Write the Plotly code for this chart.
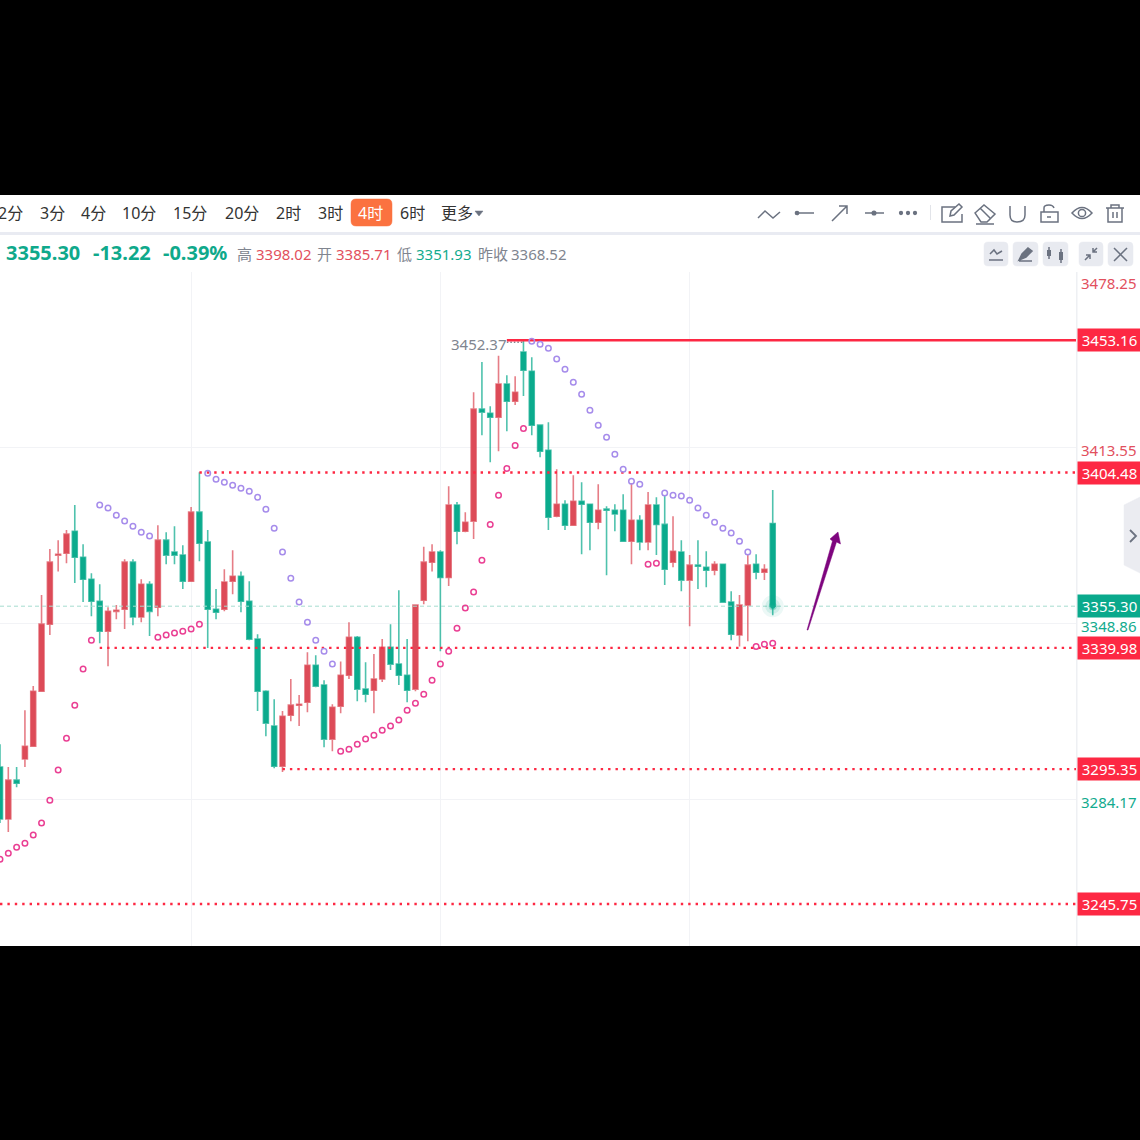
import plotly.graph_objects as go

# ---------- data ----------
high = [3304.5,3296.1,3296.1,3317.0,3325.9,3359.4,3376.3,3379.6,3383.3,3392.5,3378.1,3367.4,3363.4,3354.9,3355.7,3372.6,3372.6,3365.2,3364.5,3385.1,3382.5,3384.7,3377.7,3391.8,3404.6,3383.3,3361.6,3368.9,3375.9,3368.1,3364.5,3345.0,3324.4,3321.1,3316.7,3328.5,3322.6,3338.4,3337.3,3328.1,3319.2,3335.0,3349.4,3344.3,3334.7,3337.7,3343.2,3348.7,3361.2,3343.2,3355.7,3377.2,3378.1,3375.9,3399.4,3393.6,3389.9,3434.0,3445.1,3428.9,3447.4,3440.3,3439.9,3453.2,3446.9,3421.9,3423.0,3405.7,3394.3,3403.5,3400.9,3392.8,3400.2,3392.1,3392.8,3396.5,3400.6,3388.8,3397.3,3395.4,3396.1,3388.4,3379.6,3374.1,3379.6,3375.5,3371.8,3370.7,3360.8,3359.4,3374.1,3374.4,3370.7,3398.02]
low = [3275.5,3272.2,3288.7,3296.1,3303.8,3324.0,3344.7,3368.1,3371.1,3363.8,3356.8,3351.6,3341.7,3333.2,3350.5,3346.9,3348.3,3349.4,3344.3,3351.6,3370.7,3370.7,3361.6,3364.2,3371.8,3339.9,3350.5,3353.4,3359.7,3353.1,3342.8,3316.7,3307.5,3295.7,3294.3,3313.0,3311.2,3316.3,3325.5,3303.4,3301.9,3315.9,3328.5,3320.3,3320.0,3315.9,3327.4,3331.8,3326.3,3320.0,3324.0,3356.0,3368.1,3338.7,3362.7,3378.1,3382.5,3380.0,3418.2,3408.3,3412.3,3419.7,3429.3,3432.6,3418.2,3410.1,3383.3,3388.0,3383.3,3385.1,3374.4,3375.9,3383.6,3366.7,3382.9,3379.2,3370.7,3375.9,3375.9,3374.1,3363.1,3369.6,3360.8,3347.9,3361.6,3362.3,3366.7,3356.8,3342.8,3340.5,3342.4,3365.2,3364.9,3351.93]
open_ = [3296.1,3277.0,3291.3,3299.1,3303.8,3324.0,3348.7,3374.1,3374.8,3382.9,3373.3,3365.2,3357.1,3346.1,3353.4,3354.2,3371.5,3351.3,3363.4,3354.9,3379.6,3375.2,3374.1,3364.5,3389.9,3378.9,3354.2,3354.2,3364.5,3366.3,3357.1,3343.2,3324.0,3311.2,3296.4,3315.2,3318.9,3320.0,3333.6,3326.3,3306.4,3318.5,3329.9,3343.9,3324.8,3324.4,3328.5,3340.2,3334.0,3329.9,3324.8,3357.5,3371.5,3375.2,3365.9,3392.5,3382.9,3386.6,3427.8,3426.3,3424.8,3437.0,3430.7,3448.8,3441.7,3421.9,3412.7,3388.4,3392.8,3385.1,3393.9,3392.8,3386.2,3391.0,3390.6,3390.6,3379.2,3386.9,3378.9,3392.5,3385.4,3371.5,3375.2,3364.9,3370.4,3369.6,3368.5,3370.7,3356.8,3344.7,3355.7,3370.7,3367.8,3385.71]
close = [3277.0,3291.3,3290.2,3303.8,3324.0,3348.7,3371.5,3374.4,3381.8,3373.3,3365.2,3357.1,3346.1,3353.4,3353.8,3371.5,3351.3,3363.4,3353.4,3379.6,3374.1,3374.1,3364.5,3389.9,3378.5,3354.2,3353.1,3364.2,3366.3,3357.1,3343.2,3324.0,3312.3,3296.4,3314.8,3318.9,3319.2,3333.6,3325.9,3306.4,3318.1,3329.9,3343.9,3324.8,3322.9,3328.5,3340.2,3334.0,3329.9,3324.4,3355.7,3371.5,3375.2,3365.9,3392.5,3382.9,3386.2,3427.8,3426.7,3424.8,3437.0,3430.7,3434.0,3442.1,3421.9,3412.3,3388.0,3392.8,3385.1,3393.9,3392.8,3386.2,3390.6,3390.6,3389.2,3379.2,3386.9,3378.9,3392.5,3385.4,3368.9,3375.5,3364.9,3370.4,3370.0,3368.5,3370.7,3356.8,3345.0,3355.7,3370.4,3367.8,3368.9,3355.30]

sar_long = {0:3262.2,1:3264.4,2:3266.6,3:3268.1,4:3271.1,5:3275.5,6:3283.9,7:3295.0,8:3306.7,9:3318.9,10:3332.2,11:3342.8,
            19:3343.9,20:3344.7,21:3345.4,22:3346.1,23:3346.9,24:3348.7,
            41:3301.9,42:3302.7,43:3304.5,44:3306.4,45:3307.8,46:3309.7,47:3311.2,48:3313.4,49:3317.0,50:3319.6,51:3322.9,52:3328.1,53:3334.0,54:3338.7,55:3347.2,56:3354.6,57:3360.5,58:3372.2,59:3385.4,60:3396.1,61:3406.0,62:3414.4,63:3420.7,
            78:3370.7,79:3371.1,91:3340.5,92:3341.3,93:3341.7}
sar_short = {12:3392.5,13:3391.4,14:3388.8,15:3386.6,16:3384.7,17:3382.5,18:3381.1,
             25:3404.2,26:3402.0,27:3400.9,28:3399.8,29:3398.7,30:3397.6,31:3395.4,32:3391.0,33:3384.0,34:3375.2,35:3365.6,36:3356.8,37:3349.4,38:3342.8,39:3338.7,40:3334.0,
             64:3452.8,65:3451.7,66:3450.2,67:3446.2,68:3442.5,69:3437.7,70:3433.3,71:3427.4,72:3421.9,73:3417.5,74:3411.2,75:3405.7,76:3401.3,77:3400.2,
             80:3396.9,81:3396.1,82:3395.8,83:3394.3,84:3391.4,85:3388.8,86:3386.2,87:3384.0,88:3382.2,89:3379.2,90:3375.2}

grid_prices = [3478.25, 3413.55, 3348.86, 3284.17]
axis_labels = [("3478.25", 3478.25, "#e2505d", -11), ("3413.55", 3413.55, "#e2505d", -2),
               ("3348.86", 3348.86, "#12ab8e", -2), ("3284.17", 3284.17, "#12ab8e", -2)]
levels = [(3404.48, 24), (3339.98, 12), (3295.35, 34), (3245.75, 0)]
solid_level = (3453.16, 61)
last_price = 3355.30
session_grid = [23, 53, 83]
timeframes = [("2分", -2), ("3分", 40), ("4分", 81), ("10分", 122), ("15分", 173), ("20分", 225),
              ("2时", 276), ("3时", 318), ("6时", 400), ("更多", 441)]
stats = [("高", 237, "#80858f"), ("3398.02", 256, "#e2505d"), ("开", 317, "#80858f"), ("3385.71", 336, "#e2505d"),
         ("低", 397, "#80858f"), ("3351.93", 416, "#12ab8e"), ("昨收", 478, "#80858f"), ("3368.52", 511, "#80858f")]
headline = [("3355.30", 6), ("-13.22", 93), ("-0.39%", 163)]

# ---------- layout geometry (chrome only) ----------
PLOT_R, PLOT_T, PLOT_B = 1076, 272, 946
FONT = "Noto Sans, Noto Sans CJK SC, sans-serif"
RED, GREEN = "#dd4b58", "#0bab8d"
ICON = "#6b7280"

def X(px): return px / PLOT_R
def Y(py): return (PLOT_B - py) / (PLOT_B - PLOT_T)

def svg(d):
    out, is_x = [], True
    for tok in d.split():
        if tok.isalpha():
            out.append(tok); is_x = True
        else:
            v = float(tok)
            out.append(f"{X(v):.5f}" if is_x else f"{Y(v):.5f}")
            is_x = not is_x
    return " ".join(out)

shapes = []
def path(d, line=ICON, w=1.5, fill=None):
    shapes.append(dict(type="path", xref="paper", yref="paper", path=svg(d), layer="above",
                       line=dict(color=line, width=w), fillcolor=fill or "rgba(0,0,0,0)"))
def rect(x0, y0, x1, y1, fill, line=None, w=0):
    shapes.append(dict(type="rect", xref="paper", yref="paper", layer="above", x0=X(x0), x1=X(x1), y0=Y(y1), y1=Y(y0),
                       fillcolor=fill, line=dict(color=line or fill, width=w)))
def circle(cx, cy, rx, ry=None, fill="rgba(0,0,0,0)", line=ICON, w=1.5):
    ry = ry or rx
    shapes.append(dict(type="circle", xref="paper", yref="paper", layer="above", x0=X(cx-rx), x1=X(cx+rx), y0=Y(cy+ry), y1=Y(cy-ry),
                       fillcolor=fill, line=dict(color=line, width=w)))
def rrect(x0, y0, x1, y1, r, fill):
    path(f"M {x0+r} {y0} L {x1-r} {y0} Q {x1} {y0} {x1} {y0+r} L {x1} {y1-r} Q {x1} {y1} {x1-r} {y1} "
         f"L {x0+r} {y1} Q {x0} {y1} {x0} {y1-r} L {x0} {y0+r} Q {x0} {y0} {x0+r} {y0} Z", line=fill, w=0.5, fill=fill)

# panels
rect(0, 195, 1140, 272, "#ffffff")
rect(0, 232, 1140, 235, "#e9ebf2")
rect(PLOT_R, 272, 1140, 946, "#ffffff")
rect(PLOT_R, 272, PLOT_R + 1.5, 946, "#eef0f3")
rrect(351, 199, 392, 226, 5, "#fb7240")
path("M 475 211 L 483 211 L 479 216 Z", line="#6b7280", w=0.5, fill="#6b7280")

# toolbar icons
path("M 758 218 L 765 211 L 773 218 L 780 212")
path("M 797 213 L 814 213"); circle(797, 213, 1.6, fill=ICON)
path("M 832 221 L 847 206 M 839 206 L 847 206 L 847 214")
path("M 865 213 L 884 213"); circle(874, 213, 1.8, fill=ICON)
for cx in (901, 908, 915):
    circle(cx, 213, 1.4, fill=ICON)
rect(930, 205, 931, 220, "#e2e4e9")
path("M 955 207 L 942 207 L 942 222 L 962 222 L 962 214")
path("M 950 216 L 951 211 L 959 204 L 962 207 L 954 215 Z")
path("M 975 213 L 984 205 L 995 214 L 987 222 L 981 222 Z M 980 208 L 990 218 M 976 224 L 994 224")
path("M 1010 206 L 1010 215 Q 1010 222 1017 222 Q 1025 222 1025 215 L 1025 206 M 1010 206 L 1010 209 M 1025 206 L 1025 209")
path("M 1041 212 L 1058 212 L 1058 222 L 1041 222 Z M 1044 212 L 1044 208 Q 1044 205 1049 205 Q 1053 205 1054 208 M 1047 217 L 1051 217")
path("M 1072 213 Q 1082 202 1092 213 Q 1082 224 1072 213 Z"); circle(1082, 213, 3.6)
path("M 1106 208 L 1124 208 M 1111 208 L 1111 205 L 1119 205 L 1119 208 M 1108 208 L 1108 222 L 1122 222 L 1122 208 M 1113 212 L 1113 218 M 1117 212 L 1117 218")

# info bar buttons
for x0, x1 in ((984, 1008), (1013, 1038), (1043, 1068), (1079, 1103), (1108, 1133)):
    rrect(x0, 242, x1, 266, 4, "#e8eaf0")
path("M 990 254 L 994 250 L 997 254 L 1002 251 M 989 260 L 1003 260")
path("M 1019 260 L 1022 254 L 1028 248 L 1032 251 L 1026 257 Z M 1019 261 L 1032 261", fill=ICON)
path("M 1049 247 L 1049 259 M 1061 249 L 1061 263")
rect(1047, 250, 1051, 256, ICON); rect(1059, 252, 1063, 260, ICON)
path("M 1085 260 L 1090 255 M 1090 259 L 1090 255 L 1086 255 M 1097 248 L 1093 252 M 1093 248 L 1093 252 L 1097 252")
path("M 1114 248 L 1127 261 M 1127 248 L 1114 261")

# side tab
path("M 1140 497 L 1124 505 L 1124 565 L 1140 573 Z", line="#ebecf1", w=0.5, fill="#ebecf1")
path("M 1130 530 L 1136 536 L 1130 542", w=1.8)

# hand-drawn arrow
path("M 807 630 L 808 630 L 836.5 542 L 840.5 544 L 838 532 L 830 539 L 832.5 541 Z", line="#7e057e", w=0.5, fill="#7e057e")

# ---------- annotations ----------
ann = []
def text(s, px, py, size=15, color="#333", anchor="left", bold=False):
    ann.append(dict(text=f"<b>{s}</b>" if bold else s, xref="paper", yref="paper", x=X(px), y=Y(py), xanchor=anchor, yanchor="middle",
                    showarrow=False, font=dict(family=FONT, size=size, color=color), borderpad=0, borderwidth=0))

for label, px in timeframes:
    text(label, px, 213, 16)
text("4时", 358, 213, 16, "#ffffff")
for s, px in headline:
    text(s, px, 253, 20, "#0fa98b", bold=True)
for s, px, col in stats:
    text(s, px, 254, 15, col)

def tag(label, price, bg):
    ann.append(dict(text=label, xref="paper", yref="y", x=X(1077), y=price, xanchor="left", yanchor="middle", showarrow=False,
                    width=63, height=22, align="center", valign="middle", bgcolor=bg, borderpad=0,
                    font=dict(family=FONT, size=15, color="#ffffff")))
for label, price, col, shift in axis_labels:
    ann.append(dict(text=label, xref="paper", yref="y", x=X(1079), y=price, xanchor="left", yanchor="middle", showarrow=False,
                    yshift=shift, font=dict(family=FONT, size=15, color=col)))
for price, _ in levels + [solid_level]:
    tag(f"{price:.2f}", price, "#fd2843")
tag(f"{last_price:.2f}", last_price, "#0aa98c")
ann.append(dict(text="3452.37", x=61, y=3452.37, xref="x", yref="y", xanchor="right", yanchor="middle", showarrow=False,
                yshift=-2, xshift=2, font=dict(family=FONT, size=15, color="#80858f")))

# ---------- figure ----------
fig = go.Figure()
n = len(close)
xs = list(range(n))
x_end = 129.5

fig.add_trace(go.Scatter(x=[0, x_end], y=[last_price, last_price], mode="lines", hoverinfo="skip",
                         line=dict(color="#a5dccf", width=1, dash="4px,3px")))
fig.add_trace(go.Candlestick(x=xs, open=open_, high=high, low=low, close=close,
                             increasing=dict(fillcolor=RED, line=dict(color="rgba(221,75,88,0.72)", width=1.6)),
                             decreasing=dict(fillcolor=GREEN, line=dict(color="rgba(11,171,141,0.72)", width=1.6))))
for price, start in levels:
    fig.add_trace(go.Scatter(x=[start, x_end], y=[price, price], mode="lines", hoverinfo="skip",
                             line=dict(color="#fd2843", width=2.4, dash="2.4px,5px")))
fig.add_trace(go.Scatter(x=[61, 63], y=[3452.37, 3452.37], mode="lines", hoverinfo="skip",
                         line=dict(color="#80858f", width=1.5, dash="1.5px,2px")))
fig.add_trace(go.Scatter(x=[solid_level[1], x_end], y=[solid_level[0]] * 2, mode="lines", hoverinfo="skip",
                         line=dict(color="#fd2843", width=2.6)))
fig.add_trace(go.Scatter(x=list(sar_long), y=list(sar_long.values()), mode="markers", hoverinfo="skip",
                         marker=dict(symbol="circle-open", size=5.5, color="#ea3f93", line=dict(width=1.5, color="#ea3f93"))))
fig.add_trace(go.Scatter(x=list(sar_short), y=list(sar_short.values()), mode="markers", hoverinfo="skip",
                         marker=dict(symbol="circle-open", size=5.5, color="#a68ceb", line=dict(width=1.5, color="#a68ceb"))))
for size, op in ((22, 0.08), (15, 0.12), (8, 0.3), (5, 0.9)):
    fig.add_trace(go.Scatter(x=[n - 1], y=[last_price], mode="markers", hoverinfo="skip",
                             marker=dict(size=size, color=GREEN, opacity=op, line=dict(width=0))))

fig.update_layout(
    width=1140, height=1140, autosize=False, showlegend=False,
    paper_bgcolor="#000000", plot_bgcolor="#ffffff",
    margin=dict(l=0, r=1140 - PLOT_R, t=PLOT_T, b=1140 - PLOT_B, pad=0),
    boxgap=0.4, boxgroupgap=0,
    shapes=shapes, annotations=ann,
    xaxis=dict(range=[0, x_end], rangeslider=dict(visible=False), tickmode="array", tickvals=session_grid,
               showticklabels=False, ticks="", showgrid=True, gridcolor="#f2f3f6", gridwidth=1, zeroline=False, showline=False),
    yaxis=dict(range=[3230.29, 3478.25], tickmode="array", tickvals=grid_prices, showticklabels=False, ticks="",
               showgrid=True, gridcolor="#f2f3f6", gridwidth=1, zeroline=False, showline=False),
)
fig.write_html("out.html", config=dict(displayModeBar=False, responsive=False),
               post_script="document.body.style.margin='0';document.body.style.background='#000';document.body.style.overflow='hidden';")
